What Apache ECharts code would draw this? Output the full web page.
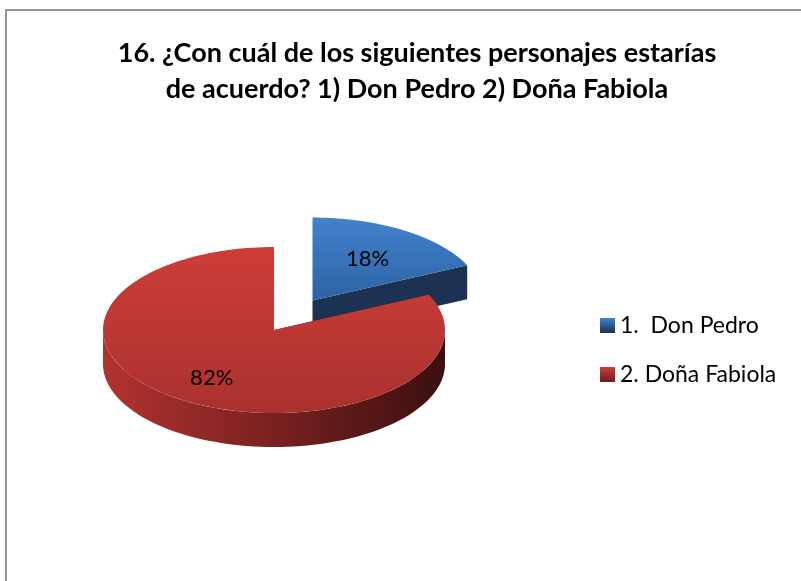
<!DOCTYPE html>
<html>
<head>
<meta charset="utf-8">
<script src="https://cdn.jsdelivr.net/npm/echarts@6/dist/echarts.min.js"></script>
<style>
html,body{margin:0;padding:0;background:#fff}
#main{width:801px;height:581px}
</style>
</head>
<body>
<div id="main"></div>
<script>
/*数据*/
var categories=['1.  Don Pedro','2. Doña Fabiola'];
var values=[18,82];
var explode=[0.42,0];

/*颜色*/
var topColors=[['#4282cc','#2d62a4'],['#cd3d39','#aa312e']];
var sideColors=['#1c3253','#6e1e1c'];
var wallColors=[['#2a4f80','#12233b'],['#b3322f','#3a0f0f']];
/*标签位置(半径比例)*/
var labelR=[0.6,0.68];

/*椭圆参数*/
var CX=274,CY=330,RX=171,RY=83,D=34;
var total=0;
for(var i=0;i<values.length;i++){total+=values[i];}

var fontFam='Lato, "Open Sans", sans-serif';

var renderSlice=function(params,api){
	var start=api.value(0),v=api.value(1);
	var idx=params.seriesIndex;
	var a0=-Math.PI/2+start/total*2*Math.PI;
	var a1=a0+v/total*2*Math.PI;
	var mid=(a0+a1)/2;
	var ex=explode[idx];
	var cx=CX+Math.cos(mid)*RX*ex,cy=CY+Math.sin(mid)*RY*ex;
	var pt=function(a,dy){return [cx+RX*Math.cos(a),cy+RY*Math.sin(a)+(dy||0)];};
	var children=[];
	/*径向侧面*/
	[a0,a1].forEach(function(a){
		var p=pt(a);
		children.push({type:'polygon',shape:{points:[[cx,cy],p,[p[0],p[1]+D],[cx,cy+D]]},
			style:{fill:sideColors[idx]}});
	});
	/*外侧面(前半部分)*/
	var s=Math.max(a0,0),e=Math.min(a1,Math.PI);
	if(e>s){
		var wall=[],n=80,k;
		for(k=0;k<=n;k++){wall.push(pt(s+(e-s)*k/n));}
		for(k=n;k>=0;k--){wall.push(pt(s+(e-s)*k/n,D));}
		children.push({type:'polygon',shape:{points:wall},
			style:{fill:new echarts.graphic.LinearGradient(0,0,1,0,[
				{offset:0,color:wallColors[idx][0]},
				{offset:0.45,color:'#7e2321'},
				{offset:1,color:wallColors[idx][1]}])}});
	}
	/*顶面*/
	var topPts=[[cx,cy]],m=160;
	for(var j=0;j<=m;j++){topPts.push(pt(a0+(a1-a0)*j/m));}
	children.push({type:'polygon',shape:{points:topPts},
		style:{fill:new echarts.graphic.LinearGradient(0,0,0,1,[
			{offset:0,color:topColors[idx][0]},
			{offset:1,color:topColors[idx][1]}])}});
	/*标签*/
	var lr=labelR[idx];
	children.push({type:'text',style:{
		text:Math.round(v/total*100)+'%',
		x:cx+Math.cos(mid)*RX*lr,y:cy+Math.sin(mid)*RY*lr,
		align:'center',verticalAlign:'middle',
		fontSize:22,fontFamily:fontFam,fill:'#000'}});
	return {type:'group',children:children};
};

var series=[],legendData=[],cum=0;
for(var i=0;i<values.length;i++){
	series.push({
		type:'custom',
		name:categories[i],
		coordinateSystem:'none',
		z:2+i,
		itemStyle:{color:topColors[i][1]},
		renderItem:renderSlice,
		data:[[cum,values[i]]]
	});
	legendData.push({name:categories[i],
		itemStyle:{color:new echarts.graphic.LinearGradient(0,0,0,1,[
			{offset:0,color:topColors[i][0]},{offset:1,color:sideColors[i]}])}});
	cum+=values[i];
}

var chart=echarts.init(document.getElementById('main'));
chart.setOption({
	animation:false,
	backgroundColor:'#fff',
	title:{
		text:'16. ¿Con cuál de los siguientes personajes estarías\nde acuerdo? 1) Don Pedro 2) Doña Fabiola',
		left:412,top:30,textAlign:'center',
		textStyle:{fontSize:27,fontWeight:'bold',fontFamily:fontFam,color:'#000',lineHeight:36}
	},
	legend:{
		orient:'vertical',left:595,top:309,
		icon:'rect',itemWidth:15,itemHeight:15,itemGap:26,
		textStyle:{fontSize:23,fontFamily:fontFam,color:'#000'},
		data:legendData
	},
	graphic:[{type:'rect',shape:{x:6,y:10,width:1000,height:1000},
		style:{fill:null,stroke:'#959595',lineWidth:2},silent:true}],
	series:series
});
</script>
</body>
</html>
